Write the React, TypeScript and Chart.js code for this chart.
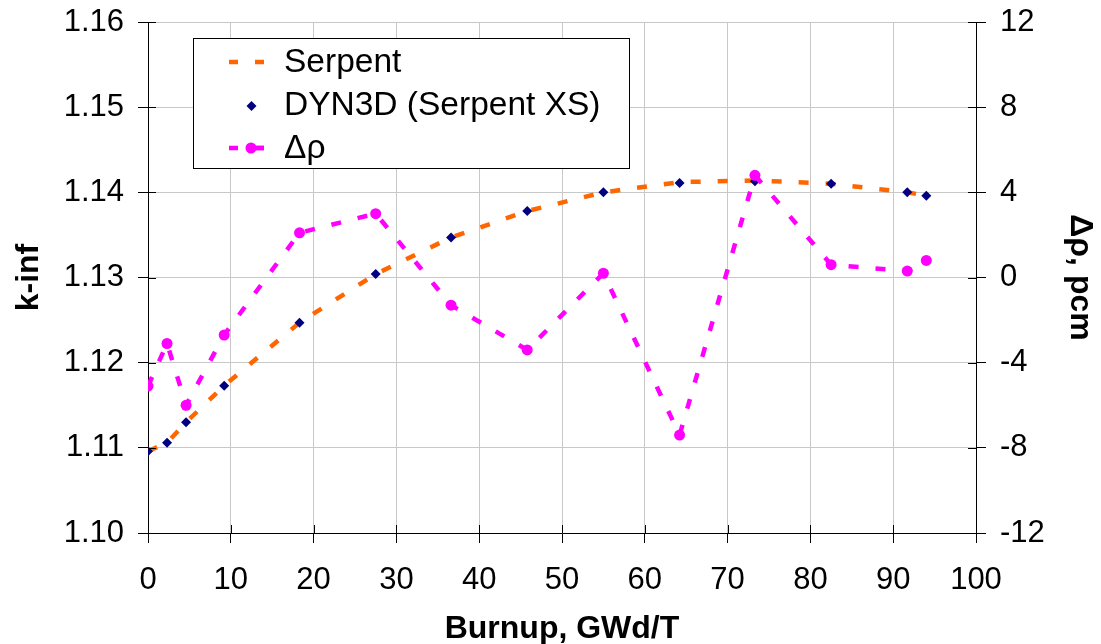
import React, { useEffect, useRef } from "react";
import { Chart, registerables } from "chart.js";

Chart.register(...registerables);

const burnup = [0, 2.3, 4.6, 9.2, 18.3, 27.5, 36.6, 45.8, 55.0, 64.2, 73.3, 82.5, 91.7, 94.0];
const serpentK = [1.1096, 1.1106, 1.1130, 1.1173, 1.1247, 1.1304, 1.1347, 1.1378, 1.1400, 1.1412, 1.1414, 1.1410, 1.1400, 1.1396];
const dyn3dK = [1.1096, 1.1106, 1.1130, 1.1173, 1.1247, 1.1304, 1.1347, 1.1378, 1.1400, 1.1411, 1.1413, 1.1410, 1.1400, 1.1396];
const deltaRho = [-5.1, -3.1, -6.0, -2.7, 2.1, 3.0, -1.3, -3.4, 0.2, -7.4, 4.8, 0.6, 0.3, 0.8];

const seriesNames = ["Serpent", "DYN3D (Serpent XS)", "\u0394\u03c1"];
const xTitle = "Burnup, GWd/T";
const yTitle = "k-inf";
const y2Title = "\u0394\u03c1, pcm";

const FONT = "Arial, 'Liberation Sans', sans-serif";
const ORANGE = "#FF6600";
const NAVY = "#000080";
const MAGENTA = "#FF00FF";

const crossTicks = {
  id: "crossTicks",
  afterDraw(chart: any) {
    const ctx = chart.ctx;
    const { x, y, y2 } = chart.scales;
    ctx.save();
    ctx.strokeStyle = "#000";
    ctx.lineWidth = 1;
    ctx.beginPath();
    x.ticks.forEach((t: any) => {
      const px = Math.round(x.getPixelForValue(t.value)) + 0.5;
      ctx.moveTo(px, x.top);
      ctx.lineTo(px, x.top - 8);
    });
    y.ticks.forEach((t: any) => {
      const py = Math.round(y.getPixelForValue(t.value)) + 0.5;
      ctx.moveTo(y.right, py);
      ctx.lineTo(y.right + 8, py);
    });
    y2.ticks.forEach((t: any) => {
      const py = Math.round(y2.getPixelForValue(t.value)) + 0.5;
      ctx.moveTo(y2.left, py);
      ctx.lineTo(y2.left - 8, py);
    });
    ctx.stroke();
    ctx.restore();
  },
};

const customLegend = {
  id: "customLegend",
  afterDraw(chart: any) {
    const ctx = chart.ctx;
    const bx = 193.5, by = 38.5, bw = 436, bh = 130;
    ctx.save();
    ctx.fillStyle = "#fff";
    ctx.fillRect(bx, by, bw, bh);
    ctx.strokeStyle = "#000";
    ctx.lineWidth = 1;
    ctx.strokeRect(bx, by, bw, bh);
    const rows = [62, 105, 148];
    const sx0 = 229, sx1 = 264, tx = 284;
    // Serpent
    ctx.strokeStyle = ORANGE;
    ctx.lineWidth = 4.5;
    ctx.setLineDash([9, 17]);
    ctx.beginPath();
    ctx.moveTo(sx0, rows[0]);
    ctx.lineTo(sx1, rows[0]);
    ctx.stroke();
    // DYN3D diamond
    ctx.setLineDash([]);
    ctx.fillStyle = NAVY;
    const cx = 251.5, cy = rows[1] + 1, r = 5;
    ctx.beginPath();
    ctx.moveTo(cx, cy - r);
    ctx.lineTo(cx + r, cy);
    ctx.lineTo(cx, cy + r);
    ctx.lineTo(cx - r, cy);
    ctx.closePath();
    ctx.fill();
    // Delta rho
    ctx.strokeStyle = MAGENTA;
    ctx.lineWidth = 4.5;
    ctx.setLineDash([9, 17]);
    ctx.beginPath();
    ctx.moveTo(sx0, rows[2]);
    ctx.lineTo(sx1, rows[2]);
    ctx.stroke();
    ctx.setLineDash([]);
    ctx.beginPath();
    ctx.moveTo(255, rows[2]);
    ctx.lineTo(264, rows[2]);
    ctx.stroke();
    ctx.fillStyle = MAGENTA;
    ctx.beginPath();
    ctx.arc(251, rows[2], 5.5, 0, Math.PI * 2);
    ctx.fill();
    // texts
    ctx.fillStyle = "#000";
    ctx.font = `33.5px ${FONT}`;
    ctx.textBaseline = "middle";
    ctx.textAlign = "left";
    seriesNames.forEach((n, i) => ctx.fillText(n, tx, rows[i] + 1));
    ctx.restore();
  },
};

export default function App() {
  const ref = useRef<HTMLCanvasElement>(null);
  useEffect(() => {
    document.body.style.margin = "0";
    const canvas = ref.current;
    if (!canvas) return;
    const chart = new Chart(canvas, {
      type: "scatter",
      data: {
        datasets: [
          {
            label: seriesNames[2],
            data: burnup.map((b, i) => ({ x: b, y: deltaRho[i] })),
            yAxisID: "y2",
            showLine: true,
            borderColor: MAGENTA,
            backgroundColor: MAGENTA,
            borderWidth: 4.5,
            borderDash: [10, 17],
            pointStyle: "circle",
            pointRadius: 5.5,
            pointBorderWidth: 0,
            order: 0,
          },
          {
            label: seriesNames[1],
            data: burnup.map((b, i) => ({ x: b, y: dyn3dK[i] })),
            yAxisID: "y",
            showLine: false,
            borderColor: NAVY,
            backgroundColor: NAVY,
            pointStyle: "rectRot",
            pointRadius: 5,
            pointBorderWidth: 0,
            order: 1,
          },
          {
            label: seriesNames[0],
            data: burnup.map((b, i) => ({ x: b, y: serpentK[i] })),
            yAxisID: "y",
            showLine: true,
            borderColor: ORANGE,
            backgroundColor: ORANGE,
            borderWidth: 4.5,
            borderDash: [10, 17],
            pointRadius: 0,
            order: 2,
          },
        ],
      },
      options: {
        responsive: false,
        animation: false,
        layout: { padding: { top: 22, left: 0, right: 0, bottom: 0 } },
        plugins: { legend: { display: false }, tooltip: { enabled: false } },
        scales: {
          x: {
            type: "linear",
            position: "bottom",
            min: 0,
            max: 100,
            afterFit: (s: any) => { s.height = 111; s.paddingLeft = 0; s.paddingRight = 0; },
            ticks: { stepSize: 10, autoSkip: false, maxRotation: 0, padding: 19, color: "#000", font: { family: FONT, size: 31 } },
            grid: { color: "#c8c8c8", tickColor: "#000", tickLength: 10, lineWidth: 1 },
            border: { color: "#000", width: 1 },
            title: { display: true, text: xTitle, color: "#000", font: { family: FONT, size: 32, weight: "bold" }, padding: { top: 0, bottom: -4 } },
          },
          y: {
            type: "linear",
            position: "left",
            min: 1.1,
            max: 1.16,
            afterFit: (s: any) => { s.width = 148; s.paddingTop = 0; s.paddingBottom = 0; },
            ticks: { stepSize: 0.01, padding: 14, color: "#000", font: { family: FONT, size: 31 }, callback: (v: any) => Number(v).toFixed(2) },
            grid: { color: "#c8c8c8", tickColor: "#000", tickLength: 10, lineWidth: 1 },
            border: { color: "#000", width: 1 },
            title: { display: true, text: yTitle, color: "#000", font: { family: FONT, size: 32, weight: "bold" }, padding: { top: 10, bottom: 0 } },
          },
          y2: {
            type: "linear",
            position: "right",
            min: -12,
            max: 12,
            afterFit: (s: any) => { s.width = 125; s.paddingTop = 0; s.paddingBottom = 0; },
            ticks: { stepSize: 4, padding: 14, color: "#000", font: { family: FONT, size: 31 } },
            grid: { drawOnChartArea: false, tickColor: "#000", tickLength: 10 },
            border: { color: "#000", width: 1 },
            title: { display: true, text: y2Title, color: "#000", font: { family: FONT, size: 32, weight: "bold" }, padding: { top: 2, bottom: 0 } },
          },
        },
      },
      plugins: [crossTicks, customLegend],
    } as any);
    return () => chart.destroy();
  }, []);
  return (
    <div style={{ position: "fixed", left: 0, top: 0, width: 1101, height: 644, background: "#fff" }}>
      <canvas ref={ref} width={1101} height={644} style={{ display: "block" }} />
    </div>
  );
}
